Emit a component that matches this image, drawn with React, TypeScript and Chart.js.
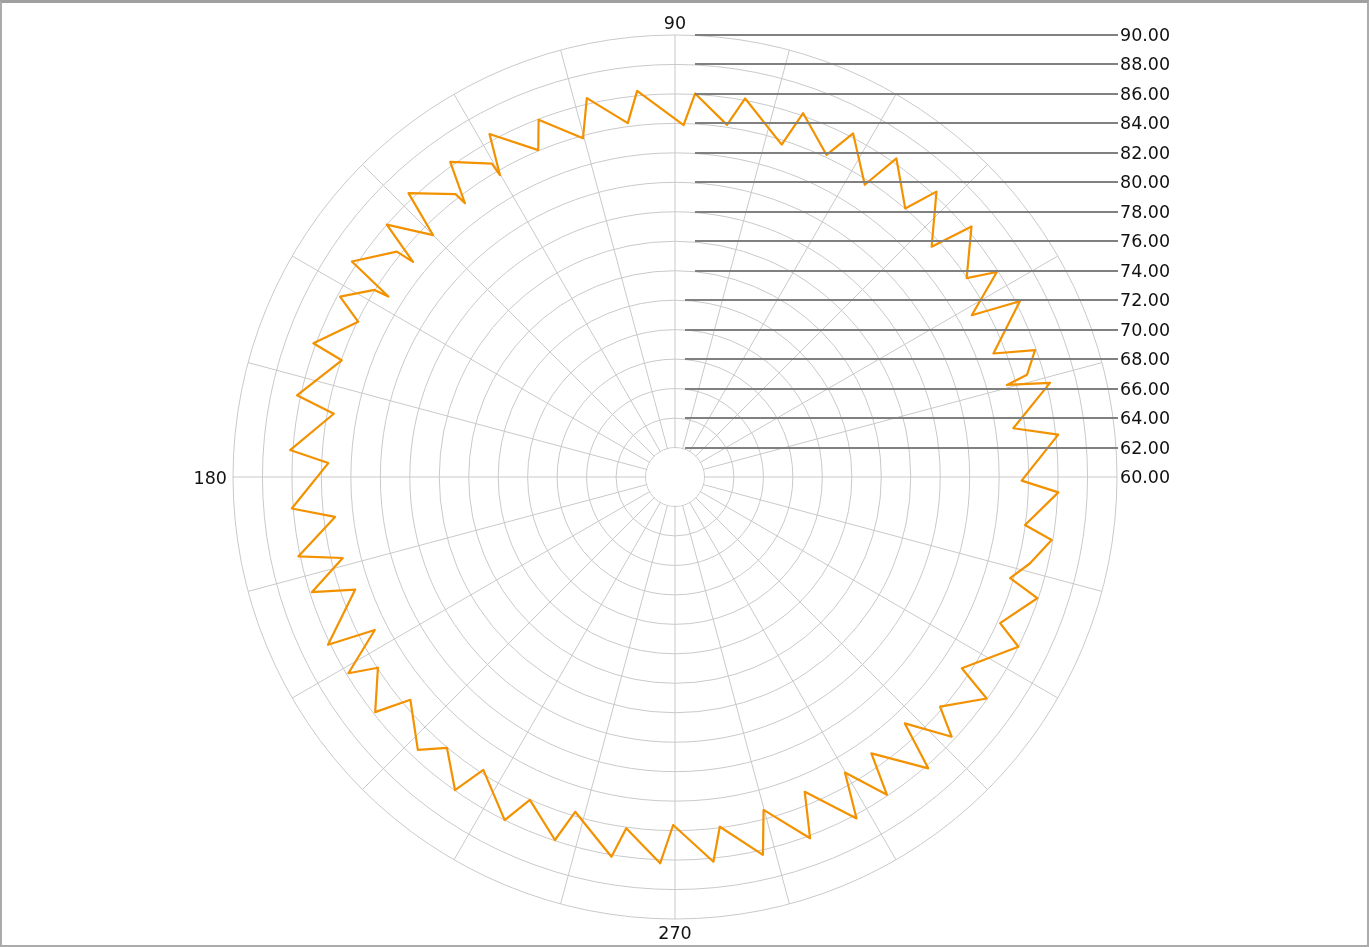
import React, { useEffect, useRef } from 'react';
import { Chart, registerables } from 'chart.js';

Chart.register(...registerables);

const W = 1369;
const H = 947;

// Measured profile vertices: angle in degrees (counter-clockwise, 0 = right) and radial value
const vertexAngles = [
  6.3, 8.2, 14.1, 15.5, 16.2, 19.4, 21.2, 27.0, 28.6, 32.5, 34.3, 40.2, 41.9, 47.5, 49.4,
  55.2, 57.0, 62.6, 64.8, 70.6, 72.2, 79.5, 81.6, 87.0, 88.6, 95.6, 97.6, 103.1, 105.2,
  110.9, 112.7, 118.4, 120.1, 120.3, 125.5, 127.5, 127.8, 133.2, 135.0, 138.8, 140.6, 141.0,
  146.3, 147.8, 148.1, 151.7, 153.9, 159.7, 160.7, 167.8, 169.5, 176.0, 177.7, 184.7, 186.7,
  191.9, 193.7, 197.6, 199.4, 205.8, 207.0, 211.0, 212.7, 218.1, 220.1, 226.7, 229.9, 234.9,
  236.8, 243.6, 245.8, 251.7, 253.4, 260.5, 262.1, 267.8, 269.7, 275.7, 277.3, 283.1, 284.9,
  290.5, 292.4, 298.0, 299.9, 303.7, 305.4, 311.0, 313.0, 316.8, 319.1, 324.6, 326.3, 333.7,
  335.8, 341.5, 343.2, 346.3, 350.5, 352.2, 357.7, 359.4,
];
const vertexValues = [
  86.17, 83.2, 86.24, 83.38, 84.88, 85.91, 83.18, 86.27, 82.94, 85.9, 83.96, 86.35, 83.4, 86.27, 84.01,
  86.33, 83.65, 86.27, 84.16, 86.18, 83.69, 86.13, 84.16, 86.06, 83.89, 86.33, 84.23, 86.4, 83.82,
  85.95, 84.05, 86.47, 83.69, 84.64, 86.27, 83.42, 84.3, 86.43, 83.21, 86.0, 83.01, 84.3,
  86.36, 82.99, 84.03, 85.82, 83.94, 86.17, 83.97, 86.25, 83.55, 86.19, 83.55, 86.1, 83.23,
  86.13, 83.21, 85.86, 83.01, 86.16, 82.87, 85.86, 83.96, 85.86, 83.48, 85.45, 84.03, 85.97,
  83.76, 86.0, 84.03, 85.95, 83.71, 86.13, 84.07, 86.24, 83.62, 86.24, 83.93, 86.33, 83.38,
  86.18, 83.11, 86.25, 83.14, 85.93, 83.01, 86.2, 82.87, 85.76, 83.8, 85.95, 83.4, 86.0,
  84.19, 85.93, 83.76, 84.79, 85.92, 83.98, 86.04, 83.53,
];

const radialTicks = [60, 62, 64, 66, 68, 70, 72, 74, 76, 78, 80, 82, 84, 86, 88, 90];
const shownAngleLabels = [90, 180, 270];

const RES = 0.1; // degrees per angular category
const N = Math.round(360 / RES);

const angleCategories = Array.from({ length: N }, (_, i) => +(((N - i) % N) * RES).toFixed(1));
const indexForAngle = (a: number) => Math.round((((360 - a) % 360) + 360) % 360 / RES) % N;

const series: (number | null)[] = new Array(N).fill(null);
vertexAngles.forEach((a, k) => {
  series[indexForAngle(a)] = vertexValues[k];
});

const FONT = '17.5px "DejaVu Sans", sans-serif';

const innerMaskPlugin = {
  id: 'innerMask',
  beforeDatasetsDraw(chart: any) {
    const r = chart.scales.r;
    const ctx = chart.ctx;
    const d = r.getDistanceFromCenterForValue(radialTicks[1]);
    ctx.save();
    ctx.beginPath();
    ctx.arc(r.xCenter, r.yCenter, d - 0.6, 0, Math.PI * 2);
    ctx.fillStyle = '#ffffff';
    ctx.fill();
    ctx.restore();
  },
};

const labelsPlugin = {
  id: 'polarLabels',
  afterDraw(chart: any) {
    const r = chart.scales.r;
    const ctx = chart.ctx;
    ctx.save();
    ctx.font = FONT;
    ctx.fillStyle = '#111';
    ctx.strokeStyle = '#808080';
    ctx.lineWidth = 2;
    const xEnd = r.xCenter + r.drawingArea + 1;
    radialTicks.forEach((v) => {
      const d = r.getDistanceFromCenterForValue(v);
      const y = Math.round(r.yCenter - d);
      if (v > 60) {
        const x0 = r.xCenter + (v >= 74 ? 20 : 10);
        ctx.beginPath();
        ctx.moveTo(x0, y);
        ctx.lineTo(xEnd, y);
        ctx.stroke();
      }
      ctx.textAlign = 'left';
      ctx.textBaseline = 'middle';
      ctx.fillText(v.toFixed(2), xEnd + 2, y + 1);
    });
    shownAngleLabels.forEach((a) => {
      const idx = indexForAngle(a);
      const p = r.getPointPosition(idx, r.drawingArea + 6);
      ctx.textBaseline = 'alphabetic';
      if (a === 90) {
        ctx.textAlign = 'center';
        ctx.fillText(String(a), p.x, p.y);
      } else if (a === 270) {
        ctx.textAlign = 'center';
        ctx.fillText(String(a), p.x, p.y + 14);
      } else {
        ctx.textAlign = 'right';
        ctx.fillText(String(a), p.x, p.y + 6.5);
      }
    });
    ctx.restore();
  },
};

export default function App() {
  const ref = useRef<HTMLCanvasElement | null>(null);
  useEffect(() => {
    if (!ref.current) return;
    const chart = new Chart(ref.current, {
      type: 'radar',
      data: {
        labels: angleCategories,
        datasets: [
          {
            data: series,
            borderColor: '#f39200',
            backgroundColor: 'transparent',
            borderWidth: 2.2,
            borderJoinStyle: 'round',
            pointRadius: 0,
            pointHoverRadius: 0,
            fill: false,
            spanGaps: true,
            tension: 0,
          } as any,
        ],
      },
      options: {
        responsive: false,
        animation: false,
        devicePixelRatio: 1,
        events: [],
        layout: { padding: { left: 233, right: 252, top: 35, bottom: 28 } },
        plugins: { legend: { display: false }, tooltip: { enabled: false } },
        scales: {
          r: {
            min: 60,
            max: 90,
            startAngle: 90,
            ticks: { display: false, stepSize: 2 },
            grid: { color: '#c9c9c9', lineWidth: 1, circular: true },
            angleLines: {
              display: true,
              color: '#c9c9c9',
              lineWidth: (c: any) => (c.index % Math.round(15 / RES) === 0 ? 1 : 0),
            },
            pointLabels: { display: false },
          } as any,
        },
      },
      plugins: [innerMaskPlugin, labelsPlugin],
    });
    return () => chart.destroy();
  }, []);

  return (
    <div style={{ position: 'fixed', left: 0, top: 0, width: W, height: H, background: '#fff' }}>
      <canvas ref={ref} width={W} height={H} style={{ display: 'block', width: W, height: H }} />
      <div
        style={{
          position: 'absolute',
          left: 0,
          top: 0,
          width: W,
          height: H,
          boxSizing: 'border-box',
          borderLeft: '2px solid #ababab',
          borderRight: '2px solid #ababab',
          borderBottom: '2px solid #ababab',
          borderTop: '3px solid #a0a0a0',
          pointerEvents: 'none',
        }}
      />
    </div>
  );
}
